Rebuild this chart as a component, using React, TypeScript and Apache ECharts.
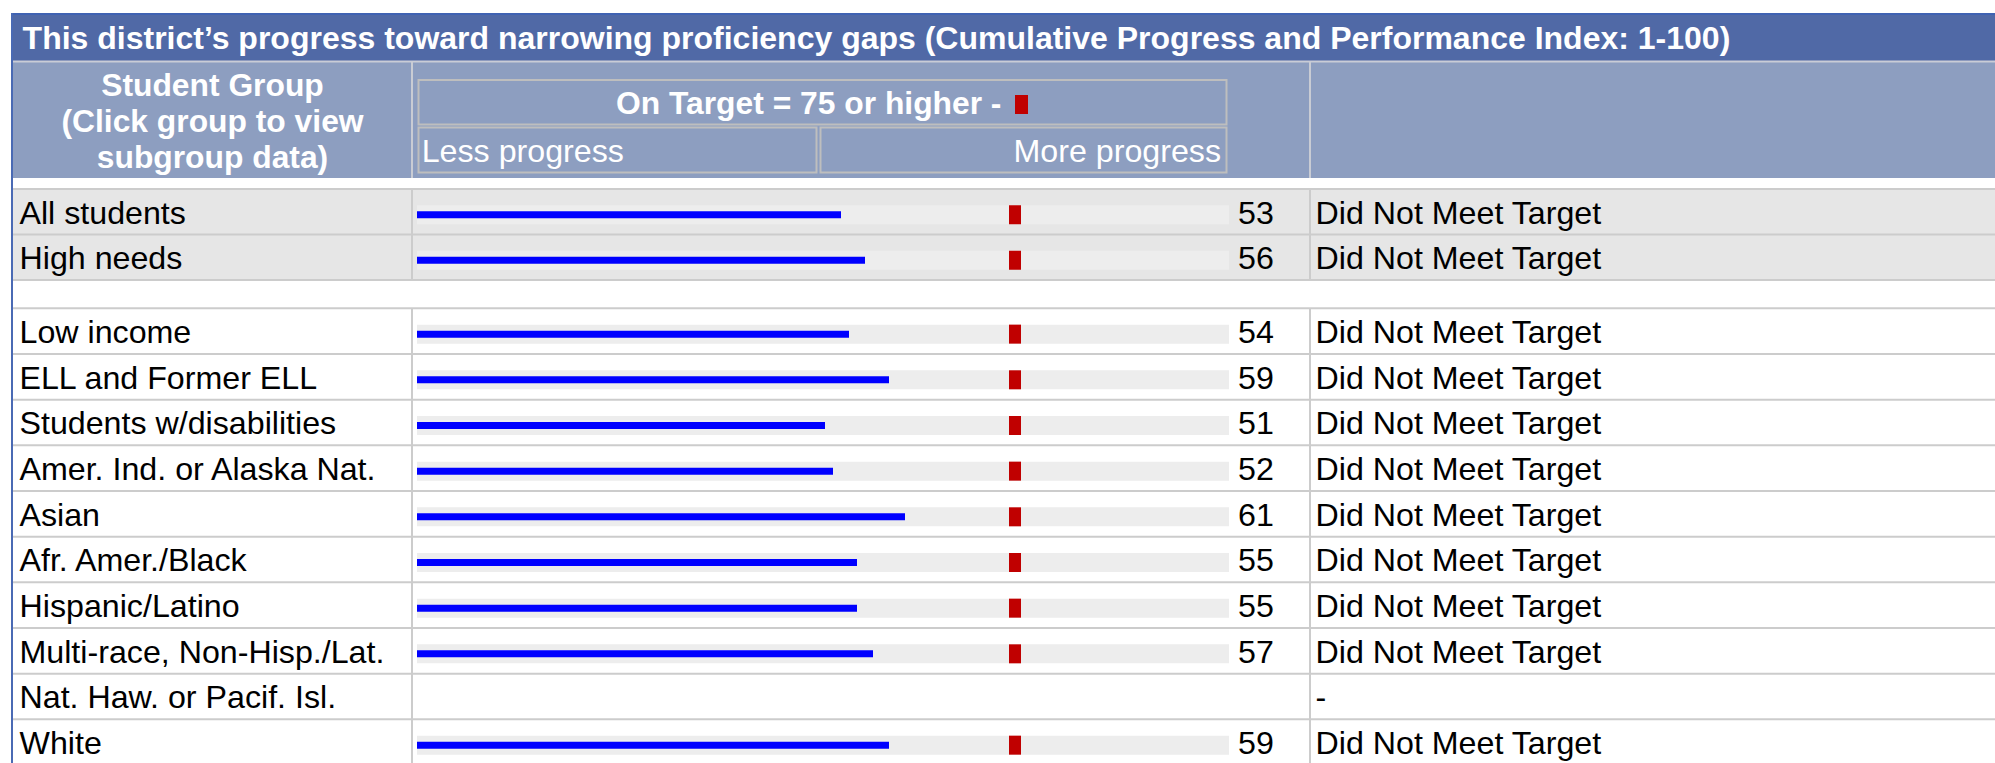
import React, { useEffect, useRef } from "react";
import * as echarts from "echarts";

// ---------- text ----------
const TITLE =
  "This district’s progress toward narrowing proficiency gaps (Cumulative Progress and Performance Index: 1-100)";
const HEADER_GROUP = "Student Group\n(Click group to view\nsubgroup data)";
const HEADER_TARGET = "On Target = 75 or higher -";
const HEADER_LESS = "Less progress";
const HEADER_MORE = "More progress";

// ---------- data ----------
const GROUPS_TOP = ["All students", "High needs"];
const VALUES_TOP: (number | null)[] = [53, 56];
const STATUS_TOP = ["Did Not Meet Target", "Did Not Meet Target"];

const GROUPS_SUB = [
  "Low income",
  "ELL and Former ELL",
  "Students w/disabilities",
  "Amer. Ind. or Alaska Nat.",
  "Asian",
  "Afr. Amer./Black",
  "Hispanic/Latino",
  "Multi-race, Non-Hisp./Lat.",
  "Nat. Haw. or Pacif. Isl.",
  "White",
];
const VALUES_SUB: (number | null)[] = [54, 59, 51, 52, 61, 55, 55, 57, null, 59];
const STATUS_SUB = [
  "Did Not Meet Target",
  "Did Not Meet Target",
  "Did Not Meet Target",
  "Did Not Meet Target",
  "Did Not Meet Target",
  "Did Not Meet Target",
  "Did Not Meet Target",
  "Did Not Meet Target",
  "-",
  "Did Not Meet Target",
];

const TARGET = 75;
const SCALE_MAX = 101.5;

// ---------- layout / style ----------
const W = 1995;
const H = 763;
const FONT = '"Liberation Sans", Arial, Helvetica, sans-serif';
const FS = 32.2;
const FS_BOLD = 31.8;
const TABLE_LEFT = 12;
const COL1_X = 412;
const COL3_X = 1310;
const PLOT_LEFT = 417;
const PLOT_WIDTH = 812;
const BAR_DROP = 3;
const LABEL_BOX = 4;
const ROW_LINE = "#CCCCCC";

const SECTIONS = [
  { groups: GROUPS_TOP, values: VALUES_TOP, status: STATUS_TOP, top: 189, rowH: 45.5 },
  { groups: GROUPS_SUB, values: VALUES_SUB, status: STATUS_SUB, top: 308.3, rowH: 45.67 },
];

function buildOption() {
  const grid: any[] = [];
  const xAxis: any[] = [];
  const yAxis: any[] = [];
  const series: any[] = [];
  const graphics: any[] = [];

  // labels sit slightly above the bar centre: bottom-aligned in a short line box
  const labelCommon = {
    fontSize: FS,
    fontFamily: FONT,
    color: "#000",
    verticalAlign: "bottom",
    lineHeight: LABEL_BOX,
  };

  // background pieces
  graphics.push(
    { type: "rect", z: -5, shape: { x: TABLE_LEFT, y: 14, width: W, height: 47 }, style: { fill: "#5069A6" } },
    { type: "rect", z: -5, shape: { x: TABLE_LEFT, y: 62, width: W, height: 116 }, style: { fill: "#8D9EC0" } },
    { type: "rect", z: -5, shape: { x: TABLE_LEFT, y: 189, width: W, height: 91 }, style: { fill: "#E6E6E6" } },
    { type: "line", z: -4, shape: { x1: TABLE_LEFT, y1: 61.5, x2: W, y2: 61.5 }, style: { stroke: "#C9CCD6", lineWidth: 2 } },
    { type: "line", z: -4, shape: { x1: COL1_X, y1: 62, x2: COL1_X, y2: 178 }, style: { stroke: "#C9CCD4", lineWidth: 2 } },
    { type: "line", z: -4, shape: { x1: COL3_X, y1: 62, x2: COL3_X, y2: 178 }, style: { stroke: "#C9CCD4", lineWidth: 2 } },
    { type: "rect", z: -4, shape: { x: 418.5, y: 80, width: 808, height: 44.5 }, style: { fill: "none", stroke: "#BEBEBE", lineWidth: 2 } },
    { type: "rect", z: -4, shape: { x: 418.5, y: 127.5, width: 398, height: 45 }, style: { fill: "none", stroke: "#BEBEBE", lineWidth: 2 } },
    { type: "rect", z: -4, shape: { x: 820.5, y: 127.5, width: 406, height: 45 }, style: { fill: "none", stroke: "#BEBEBE", lineWidth: 2 } },
    { type: "rect", z: 5, shape: { x: 1015, y: 95, width: 13, height: 19 }, style: { fill: "#C00000" } }
  );

  SECTIONS.forEach((sec, g) => {
    const n = sec.groups.length;
    const bottom = sec.top + sec.rowH * n;
    grid.push({
      left: PLOT_LEFT,
      width: PLOT_WIDTH,
      top: sec.top + BAR_DROP,
      height: sec.rowH * n,
      outerBoundsMode: "none",
      containLabel: false,
    });
    xAxis.push({ gridIndex: g, type: "value", min: 0, max: SCALE_MAX, show: false });
    yAxis.push({
      gridIndex: g,
      type: "category",
      data: sec.groups,
      inverse: true,
      position: "left",
      axisLine: { show: false },
      axisTick: { show: false },
      splitLine: { show: false },
      axisLabel: { ...labelCommon, align: "left", margin: PLOT_LEFT - 19.5, interval: 0 },
    });
    yAxis.push({
      gridIndex: g,
      type: "category",
      data: sec.status,
      inverse: true,
      position: "right",
      axisLine: { show: false },
      axisTick: { show: false },
      splitLine: { show: false },
      axisLabel: { ...labelCommon, align: "left", margin: 1315.5 - (PLOT_LEFT + PLOT_WIDTH), interval: 0 },
    });
    const values = sec.values;
    series.push({
      type: "bar",
      xAxisIndex: g,
      yAxisIndex: 2 * g,
      data: values.map((v) => (v == null ? "-" : SCALE_MAX)),
      barWidth: 19,
      silent: true,
      itemStyle: { color: "#EDEDED" },
      label: {
        show: true,
        position: "right",
        distance: 9,
        formatter: (p: any) => String(values[p.dataIndex]),
        ...labelCommon,
      },
    });
    series.push({
      type: "bar",
      xAxisIndex: g,
      yAxisIndex: 2 * g + 1,
      data: values.map((v) => (v == null ? "-" : v)),
      barWidth: 7,
      silent: true,
      itemStyle: { color: "#0000FF" },
    });
    series.push({
      type: "scatter",
      xAxisIndex: g,
      yAxisIndex: 2 * g,
      z: 4,
      silent: true,
      symbol: "rect",
      symbolSize: [12, 19],
      symbolOffset: [-2, 0],
      itemStyle: { color: "#C00000", opacity: 1 },
      data: values.flatMap((v, i) => (v == null ? [] : [[TARGET, i]])),
    });

    // row lines
    for (let i = 0; i <= n; i++) {
      const y = sec.top + sec.rowH * i;
      graphics.push({
        type: "line",
        z: -3,
        shape: { x1: TABLE_LEFT, y1: y, x2: W, y2: y },
        style: { stroke: ROW_LINE, lineWidth: 2 },
      });
    }
    [COL1_X, COL3_X].forEach((x) =>
      graphics.push({
        type: "line",
        z: -3,
        shape: { x1: x, y1: sec.top, x2: x, y2: bottom },
        style: { stroke: ROW_LINE, lineWidth: 2 },
      })
    );
  });

  // outer border
  graphics.push(
    { type: "line", z: -2, shape: { x1: 11, y1: 14, x2: W, y2: 14 }, style: { stroke: "#3F62B2", lineWidth: 2 } },
    { type: "line", z: -2, shape: { x1: TABLE_LEFT, y1: 13, x2: TABLE_LEFT, y2: H }, style: { stroke: "#4A6AB4", lineWidth: 2 } }
  );

  // header texts
  graphics.push(
    {
      type: "text",
      z: 10,
      x: 22.6,
      y: 38.2,
      style: { text: TITLE, fill: "#FFFFFF", fontSize: 32, fontWeight: "bold", fontFamily: FONT, align: "left", verticalAlign: "middle" },
    },
    {
      type: "text",
      z: 10,
      x: 212.5,
      y: 120.5,
      style: {
        text: HEADER_GROUP,
        fill: "#FFFFFF",
        fontSize: FS_BOLD,
        fontWeight: "bold",
        fontFamily: FONT,
        align: "center",
        verticalAlign: "middle",
        lineHeight: 36,
      },
    },
    {
      type: "text",
      z: 10,
      x: 616,
      y: 103.3,
      style: { text: HEADER_TARGET, fill: "#FFFFFF", fontSize: FS_BOLD, fontWeight: "bold", fontFamily: FONT, align: "left", verticalAlign: "middle" },
    },
    {
      type: "text",
      z: 10,
      x: 421.7,
      y: 150.7,
      style: { text: HEADER_LESS, fill: "#FFFFFF", fontSize: FS, fontFamily: FONT, align: "left", verticalAlign: "middle" },
    },
    {
      type: "text",
      z: 10,
      x: 1221,
      y: 150.7,
      style: { text: HEADER_MORE, fill: "#FFFFFF", fontSize: FS, fontFamily: FONT, align: "right", verticalAlign: "middle" },
    }
  );

  return {
    animation: false,
    backgroundColor: "#FFFFFF",
    grid,
    xAxis,
    yAxis,
    series,
    graphic: { elements: graphics },
  };
}

export default function App() {
  const ref = useRef<HTMLDivElement>(null);
  useEffect(() => {
    if (!ref.current) return;
    const chart = echarts.init(ref.current, null, { renderer: "svg" });
    chart.setOption(buildOption() as any);
    return () => chart.dispose();
  }, []);
  return (
    <div
      ref={ref}
      style={{ position: "fixed", left: 0, top: 0, width: W, height: H, background: "#fff" }}
    />
  );
}
